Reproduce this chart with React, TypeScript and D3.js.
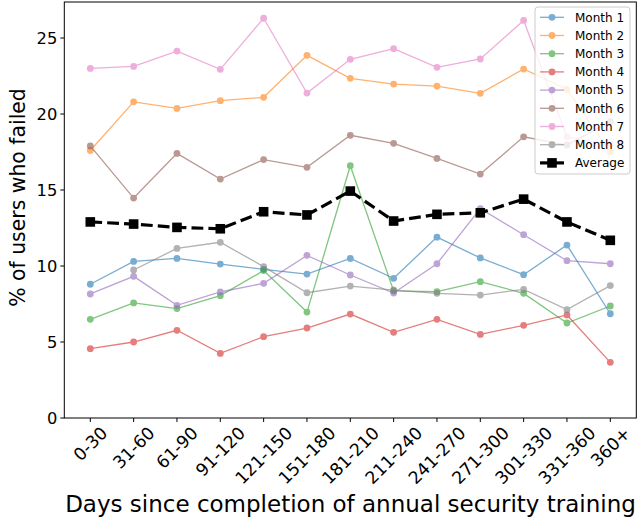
import React from "react";
import * as d3 from "d3";

const categories = ["0-30","31-60","61-90","91-120","121-150","151-180","181-210","211-240","241-270","271-300","301-330","331-360","360+"];
const seriesNames = ["Month 1","Month 2","Month 3","Month 4","Month 5","Month 6","Month 7","Month 8"];
const month1 = [8.8, 10.3, 10.5, 10.13, 9.78, 9.47, 10.5, 9.19, 11.9, 10.53, 9.43, 11.38, 6.86];
const month2 = [17.6, 20.8, 20.37, 20.88, 21.1, 23.86, 22.35, 21.97, 21.84, 21.36, 22.96, 21.62, 17.5];
const month3 = [6.49, 7.57, 7.2, 8.05, 9.7, 6.97, 16.6, 8.36, 8.31, 8.97, 8.2, 6.25, 7.37];
const month4 = [4.56, 5.0, 5.77, 4.25, 5.35, 5.92, 6.84, 5.64, 6.49, 5.5, 6.1, 6.78, 3.66];
const month5 = [8.16, 9.32, 7.41, 8.29, 8.86, 10.7, 9.41, 8.22, 10.15, 13.77, 12.06, 10.35, 10.15];
const month6 = [17.9, 14.47, 17.41, 15.72, 17.0, 16.49, 18.6, 18.07, 17.08, 16.05, 18.5, 17.96, 19.5];
const month7 = [23.0, 23.13, 24.14, 22.94, 26.3, 21.38, 23.6, 24.3, 23.07, 23.62, 26.16, 18.5, 18.0];
const month8: (number | null)[] = [null, 9.74, 11.16, 11.56, 9.96, 8.24, 8.68, 8.42, 8.2, 8.09, 8.46, 7.13, 8.71];
const average = [12.9, 12.76, 12.54, 12.45, 13.57, 13.36, 14.93, 12.96, 13.4, 13.5, 14.4, 12.9, 11.69];
const yTicks = [0, 5, 10, 15, 20, 25];
const colors = ["#1f77b4","#ff7f0e","#2ca02c","#d62728","#9467bd","#8c564b","#e377c2","#7f7f7f"];

const allSeries: (number | null)[][] = [month1, month2, month3, month4, month5, month6, month7, month8];

const charW: Record<string, number> = { "-": 0.361, "+": 0.838 };
const textEm = (s: string) => s.split("").reduce((a, c) => a + (charW[c] ?? 0.636), 0);

export default function App() {
  const W = 637, H = 525;
  const left = 64.3, right = 636.3, top = 2, bottom = 418;
  const x = d3.scaleLinear().domain([-0.6, categories.length - 1 + 0.6]).range([left, right]);
  const y = d3.scaleLinear().domain([0, 27.37]).range([bottom, top]);
  const line = d3.line<number | null>()
    .defined((d) => d !== null)
    .x((_, i) => x(i))
    .y((d) => y(d as number));
  const font = "DejaVu Sans, sans-serif";
  const legendX = 535, legendY = 7, legendW = 95, legendH = 167;
  const rowY = (i: number) => 17.3 + i * 18.2;
  const xtFont = 17.3;
  return (
    <svg width={W} height={H} style={{ position: "absolute", left: 0, top: 0, background: "#fff" }} fontFamily={font}>
      <rect x={0} y={0} width={W} height={H} fill="#fff" />
      {allSeries.map((s, k) => (
        <g key={k} opacity={0.6}>
          <path d={line(s) || ""} fill="none" stroke={colors[k]} strokeWidth={1.3} />
          {s.map((v, i) => v === null ? null : (
            <circle key={i} cx={x(i)} cy={y(v)} r={3.4} fill={colors[k]} />
          ))}
        </g>
      ))}
      <g>
        <path d={line(average) || ""} fill="none" stroke="#000" strokeWidth={3.2} strokeDasharray="11.8,5.1" />
        {average.map((v, i) => (
          <rect key={i} x={x(i) - 4.8} y={y(v) - 4.8} width={9.6} height={9.6} fill="#000" />
        ))}
      </g>
      <rect x={left} y={top} width={right - left} height={bottom - top} fill="none" stroke="#000" strokeWidth={1} />
      {yTicks.map((t) => (
        <g key={t}>
          <line x1={left - 4} x2={left} y1={y(t)} y2={y(t)} stroke="#000" strokeWidth={1} />
          <text x={left - 7} y={y(t)} dy="0.36em" textAnchor="end" fontSize={16.3} fill="#000">{t}</text>
        </g>
      ))}
      {categories.map((c, i) => {
        const L = textEm(c) * xtFont;
        const bh = (L + xtFont * 0.95) / Math.SQRT2;
        const cy = 424 + bh / 2;
        return (
          <g key={c}>
            <line x1={x(i)} x2={x(i)} y1={bottom} y2={bottom + 4} stroke="#000" strokeWidth={1} />
            <text transform={`translate(${x(i)},${cy}) rotate(-45)`} textAnchor="middle" dy="0.36em" fontSize={xtFont} fill="#000">{c}</text>
          </g>
        );
      })}
      <text x={350.5} y={512} textAnchor="middle" fontSize={23} fill="#000">Days since completion of annual security training</text>
      <text transform={`translate(25,197.5) rotate(-90)`} textAnchor="middle" fontSize={20.4} fill="#000">% of users who failed</text>
      <rect x={legendX} y={legendY} width={legendW} height={legendH} rx={3} fill="#fff" fillOpacity={0.8} stroke="#ccc" strokeWidth={1} />
      {seriesNames.map((n, k) => (
        <g key={n}>
          <g opacity={0.6}>
            <line x1={540} x2={564} y1={rowY(k)} y2={rowY(k)} stroke={colors[k]} strokeWidth={1.3} />
            <circle cx={552} cy={rowY(k)} r={3.4} fill={colors[k]} />
          </g>
          <text x={575} y={rowY(k)} dy="0.36em" fontSize={12} fill="#000">{n}</text>
        </g>
      ))}
      <line x1={540} x2={564} y1={rowY(8)} y2={rowY(8)} stroke="#000" strokeWidth={3.2} />
      <rect x={552 - 4.8} y={rowY(8) - 4.8} width={9.6} height={9.6} fill="#000" />
      <text x={575} y={rowY(8)} dy="0.36em" fontSize={12} fill="#000">Average</text>
    </svg>
  );
}
